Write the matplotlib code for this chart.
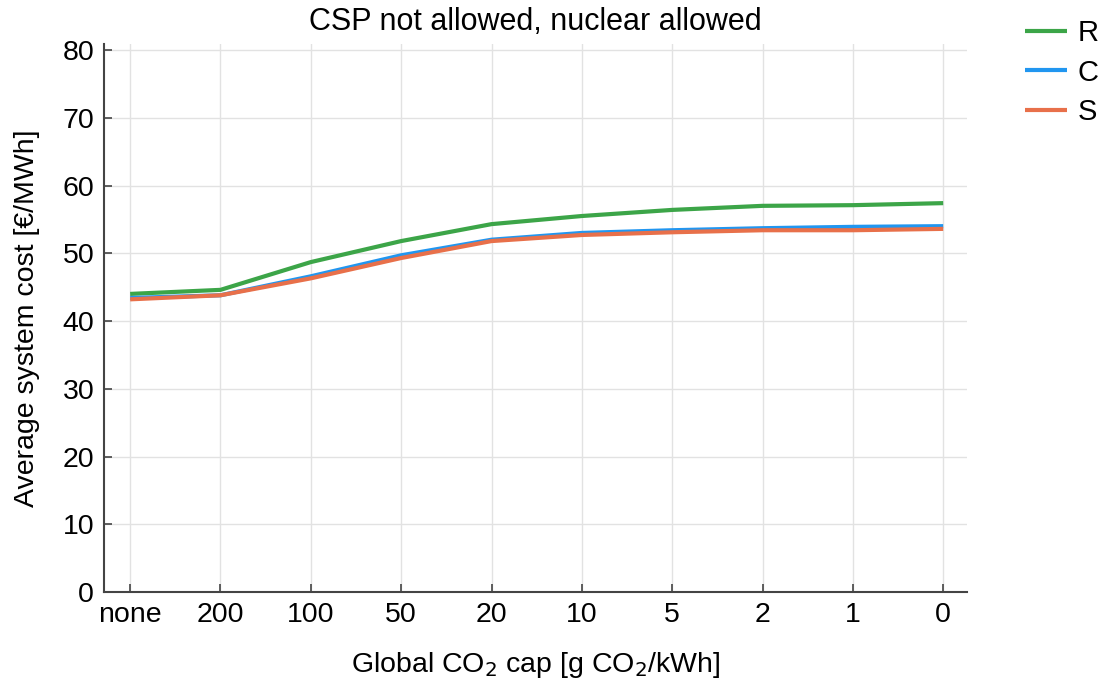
import matplotlib
matplotlib.use("Agg")
import matplotlib.pyplot as plt

plt.rcParams['font.family'] = ['Liberation Sans', 'DejaVu Sans']

caps = ["none", "200", "100", "50", "20", "10", "5", "2", "1", "0"]
series_names = ["R", "C", "S"]
cost_R = [44.0, 44.6, 48.7, 51.8, 54.3, 55.5, 56.4, 57.0, 57.1, 57.4]
cost_C = [43.4, 43.8, 46.6, 49.7, 52.0, 53.0, 53.4, 53.7, 53.9, 54.0]
cost_S = [43.2, 43.8, 46.3, 49.3, 51.8, 52.7, 53.1, 53.4, 53.4, 53.6]
colors = ["#3ca548", "#2196f0", "#e8704a"]

fig = plt.figure(figsize=(10.99, 6.8), dpi=100)
ax = fig.add_axes([0.0946, 0.1294, 0.785, 0.806])

x = list(range(len(caps)))
for name, vals, c in zip(series_names, [cost_R, cost_C, cost_S], colors):
    ax.plot(x, vals, color=c, lw=3, label=name, solid_capstyle='butt')

ax.set_xlim(-0.29, 9.26)
ax.set_ylim(0, 80.9)
ax.set_xticks(x)
ax.set_xticklabels(caps)
ax.set_yticks(range(0, 81, 10))
ax.grid(True, color="#e2e2e2", lw=1)
ax.set_axisbelow(True)
for s in ["top", "right"]:
    ax.spines[s].set_visible(False)
for s in ["left", "bottom"]:
    ax.spines[s].set_color("#444444")
    ax.spines[s].set_linewidth(1.5)
ax.tick_params(direction="in", length=6, width=1.2, color="#444444", labelsize=20.5, pad=7)
ax.set_title("CSP not allowed, nuclear allowed", fontsize=22, pad=10)
ax.set_xlabel("Global CO$_2$ cap [g CO$_2$/kWh]", fontsize=20.5, labelpad=16)
ax.set_ylabel("Average system cost [€/MWh]", fontsize=20.5, labelpad=16)
handles, labels = ax.get_legend_handles_labels()
leg = fig.legend(handles, labels, loc="upper left", bbox_to_anchor=(1025 / 1099, 1 - 19 / 680),
                 frameon=False, fontsize=21, handlelength=1.45, labelspacing=0.4,
                 handletextpad=0.35, borderpad=0, borderaxespad=0)
fig.savefig("out.png", dpi=100)
